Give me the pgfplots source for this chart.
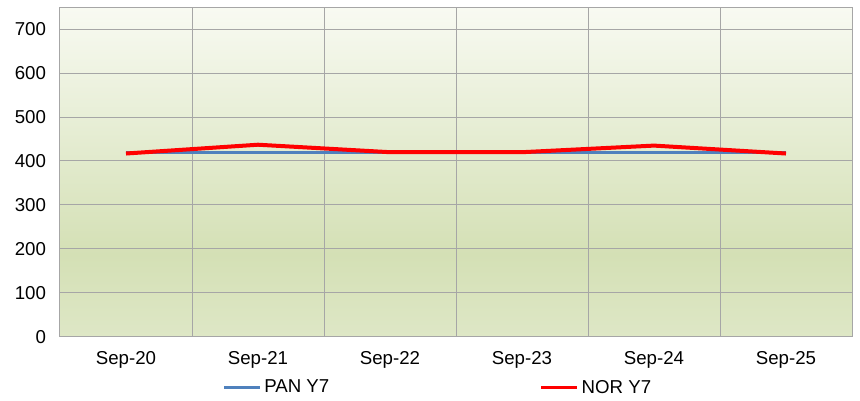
\documentclass[border=0pt]{standalone}
\usepackage{fontspec}
\setmainfont{Liberation Sans}
\usepackage{pgfplots}
\pgfplotsset{compat=1.18}

\definecolor{panblue}{HTML}{4F81BD}
\definecolor{norred}{HTML}{FF0000}
\definecolor{gridgray}{HTML}{A6A6A6}
\definecolor{bgtop}{HTML}{F8FAF2}
\definecolor{bgdark}{HTML}{D4E0B5}
\definecolor{bgbot}{HTML}{DEE7C6}
\pgfdeclareverticalshading{plotbg}{100bp}{color(0bp)=(bgbot); color(25bp)=(bgbot); color(37.5bp)=(bgdark); color(75bp)=(bgtop); color(100bp)=(bgtop)}

\begin{document}
\begin{tikzpicture}
\begin{axis}[
  name=ax,
  scale only axis,
  width=594pt, height=247.5pt,
  xmin=-0.5, xmax=5.5,
  ymin=0, ymax=750,
  xtick={0,1,2,3,4,5},
  xticklabels={Sep-20,Sep-21,Sep-22,Sep-23,Sep-24,Sep-25},
  minor xtick={-0.5,0.5,1.5,2.5,3.5,4.5,5.5},
  ytick={0,100,200,300,400,500,600,700},
  xminorgrids=true, ymajorgrids=true,
  grid style={gridgray, line width=0.75pt},
  minor grid style={gridgray, line width=0.75pt},
  axis line style={gridgray, line width=0.75pt},
  tick style={draw=none},
  major tick length=0pt, minor tick length=0pt,
  axis background/.style={shading=plotbg},
  ticklabel style={font=\fontsize{14}{16}\selectfont},
  /pgf/number format/assume math mode=true,
  yticklabel style={xshift=-7pt},
  xticklabel style={yshift=-7.5pt},
  legend columns=2,
  legend style={draw=none, fill=none, at={(0.205,-0.153)}, anchor=west,
    font=\fontsize{14}{16}\selectfont, /tikz/every even column/.append style={column sep=156pt},
    inner sep=0pt},
  legend image code/.code={\draw[#1, line width=2.25pt] (0pt,0pt) -- (27pt,0pt);},
  legend cell align=left,
]
\addplot[panblue, line width=2.25pt] coordinates {(0,420) (1,420) (2,420) (3,420) (4,420) (5,420)};
\addlegendentry{PAN Y7}
\addplot[norred, line width=3pt, line join=round] coordinates {(0,417) (1,437) (2,420) (3,420) (4,435) (5,417)};
\addlegendentry{NOR Y7}
\end{axis}
\path (ax.south west) ++(-45pt,-48pt) coordinate (bl);
\path (ax.north east) ++(6pt,5.25pt) coordinate (tr);
\path (bl) rectangle (tr);
\end{tikzpicture}
\end{document}
